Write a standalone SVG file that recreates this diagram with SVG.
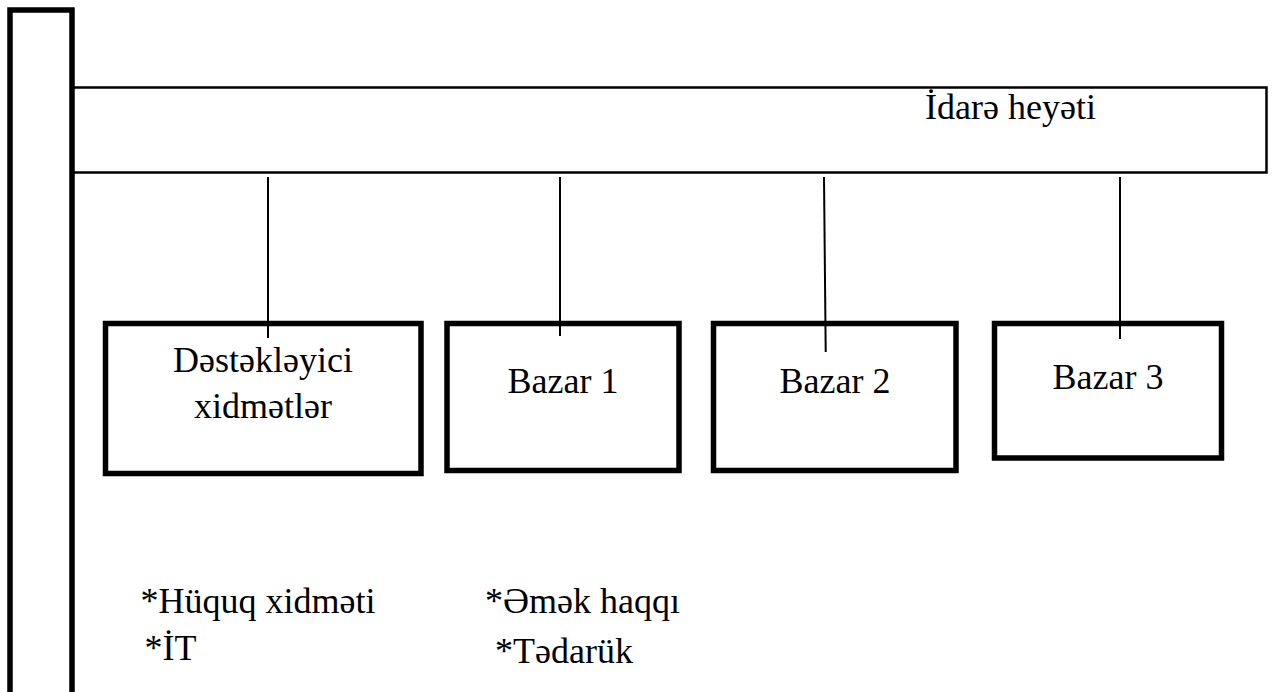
<svg xmlns="http://www.w3.org/2000/svg" width="1275" height="692" viewBox="0 0 1275 692">
<style>
.box{fill:none;stroke:#000;stroke-width:5.5}
.thin{fill:none;stroke:#000;stroke-width:2.5}
.conn{stroke:#000;stroke-width:2;fill:none}
text{font-family:"Liberation Serif","Times New Roman",serif;font-size:36px;fill:#000}
.c{text-anchor:middle}
</style>
<rect width="1275" height="692" fill="#fff"/>
<g id="sidebar"><rect class="box" x="10" y="10" width="62" height="720"/></g>
<g id="board"><rect class="thin" x="72" y="87.5" width="1194.5" height="85"/>
<text x="1096" y="119" text-anchor="end">İdarə heyəti</text></g>
<g id="connectors">
<line class="conn" x1="268" y1="177" x2="268" y2="338"/>
<line class="conn" x1="560" y1="177" x2="560" y2="336"/>
<line class="conn" x1="824" y1="177" x2="825.7" y2="352"/>
<line class="conn" x1="1120" y1="177" x2="1120" y2="339"/>
</g>
<g id="support"><rect class="box" x="105.5" y="323.5" width="315.5" height="150"/>
<text class="c" x="263" y="372">Dəstəkləyici</text>
<text class="c" x="263" y="418">xidmətlər</text></g>
<g id="bazar1"><rect class="box" x="447" y="323.5" width="232" height="147"/>
<text class="c" x="563" y="393">Bazar 1</text></g>
<g id="bazar2"><rect class="box" x="713.5" y="323.5" width="242.5" height="147"/>
<text class="c" x="835" y="393">Bazar 2</text></g>
<g id="bazar3"><rect class="box" x="994.5" y="323.5" width="227" height="134.5"/>
<text class="c" x="1108" y="389">Bazar 3</text></g>
<g id="notes">
<text x="140.5" y="613">*Hüquq xidməti</text>
<text x="144.5" y="660">*İT</text>
<text x="485" y="613">*Əmək haqqı</text>
<text x="495" y="663">*Tədarük</text>
</g>
</svg>
